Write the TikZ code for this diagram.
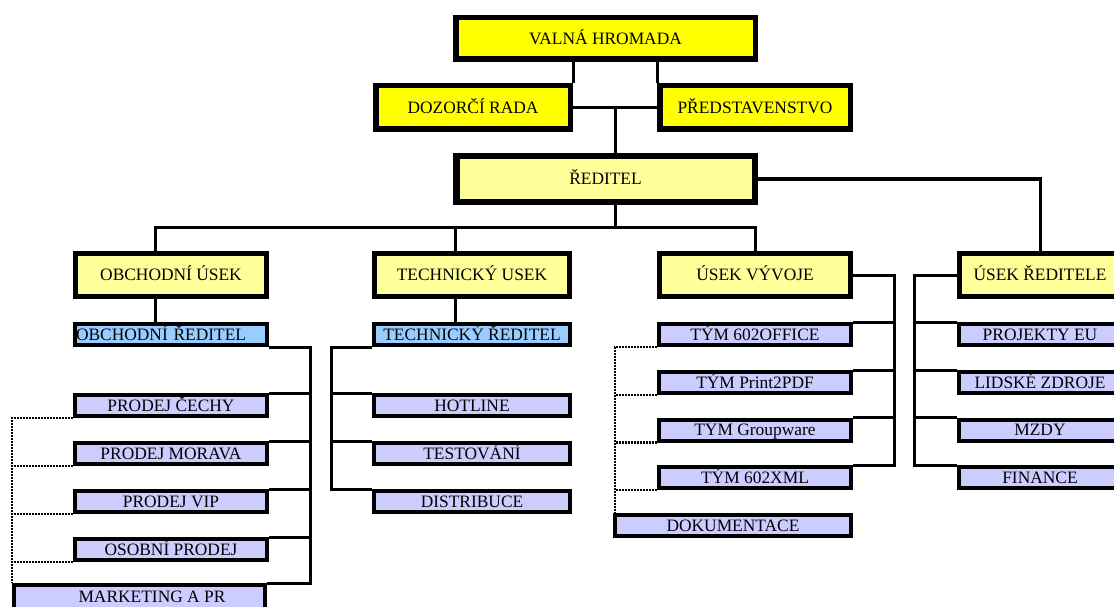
\documentclass[tikz,border=0pt]{standalone}
\usepackage{fontspec}
\setmainfont{Liberation Serif}
\usetikzlibrary{backgrounds}
\definecolor{topY}{HTML}{FFFF00}
\definecolor{lightY}{HTML}{FFFF99}
\definecolor{dirB}{HTML}{99CCFF}
\definecolor{unitL}{HTML}{CCCCFF}
\tikzset{
  box/.style={draw=black, inner sep=0pt, text height=11.5pt, text depth=0pt,
    font=\fontsize{17.4}{20}\selectfont, line join=miter},
  topbox/.style={box, fill=topY, line width=5.5pt},
  headbox/.style={box, fill=lightY, line width=6.5pt},
  deptbox/.style={box, fill=lightY, line width=5pt},
  dirbox/.style={box, fill=dirB, line width=4pt, minimum height=21pt},
  unitbox/.style={box, fill=unitL, line width=4pt, minimum height=21pt},
  conn/.style={draw=black, line width=3pt, line join=miter},
  dotconn/.style={draw=black, line width=2.5pt, dash pattern=on 2pt off 1pt}
}
\begin{document}
\begin{tikzpicture}[x=1pt,y=-1pt]
\useasboundingbox (0,0) rectangle (1114,607);
% top level
\node[topbox, minimum width=299.5pt, minimum height=41.5pt] (valna) at (605.5,38.5) {VALNÁ HROMADA};
\node[topbox, minimum width=194.5pt, minimum height=43.5pt] (dozor) at (473,107.5) {DOZORČÍ RADA};
\node[topbox, minimum width=190.5pt, minimum height=43.5pt] (pred) at (755,107.5) {PŘEDSTAVENSTVO};
\node[headbox, minimum width=298.5pt, minimum height=45.5pt] (red) at (605.5,179) {ŘEDITEL};
% departments
\node[deptbox, minimum width=191pt, minimum height=43pt] (obu) at (171,275) {OBCHODNÍ ÚSEK};
\node[deptbox, minimum width=195pt, minimum height=43pt] (teu) at (472,275) {TECHNICKÝ USEK};
\node[deptbox, minimum width=191pt, minimum height=43pt] (vyv) at (755,275) {ÚSEK VÝVOJE};
\node[deptbox, minimum width=161pt, minimum height=43pt] (ured) at (1040,275) {ÚSEK ŘEDITELE};
% directors
\node[dirbox, text width=190pt, inner xsep=1pt, align=left] (obred) at (171,334.5) {OBCHODNÍ ŘEDITEL};
\node[dirbox, minimum width=196pt] (tered) at (472,334.5) {TECHNICKÝ ŘEDITEL};
% sales units
\node[unitbox, minimum width=192pt] (cechy) at (171,405.5) {PRODEJ ČECHY};
\node[unitbox, minimum width=192pt] (morava) at (171,453.5) {PRODEJ MORAVA};
\node[unitbox, minimum width=192pt] (vip) at (171,501.5) {PRODEJ VIP};
\node[unitbox, minimum width=192pt] (osobni) at (171,549.5) {OSOBNÍ PRODEJ};
\node[unitbox, minimum width=251pt, minimum height=24pt] (mkt) at (139.5,597) {\hspace*{25pt}MARKETING A PR};
% technical units
\node[unitbox, minimum width=196pt] (hot) at (472,405.5) {HOTLINE};
\node[unitbox, minimum width=196pt] (test) at (472,453.5) {TESTOVÁNÍ};
\node[unitbox, minimum width=196pt] (distr) at (472,501.5) {DISTRIBUCE};
% development units
\node[unitbox, minimum width=192pt] (t1) at (755,334.5) {TÝM 602OFFICE};
\node[unitbox, minimum width=192pt] (t2) at (755,382.5) {TÝM Print2PDF};
\node[unitbox, minimum width=192pt] (t3) at (755,430) {TÝM Groupware};
\node[unitbox, minimum width=192pt] (t4) at (755,477.5) {TÝM 602XML};
\node[unitbox, minimum width=236pt] (dok) at (733,525.5) {DOKUMENTACE};
% director's units
\node[unitbox, minimum width=162pt] (proj) at (1040,334.5) {PROJEKTY EU};
\node[unitbox, minimum width=162pt] (lid) at (1040,382.5) {LIDSKÉ ZDROJE};
\node[unitbox, minimum width=162pt] (mzdy) at (1040,430) {MZDY};
\node[unitbox, minimum width=162pt] (fin) at (1040,477.5) {FINANCE};

\coordinate (j1) at (615,107.5);
\coordinate (bus) at (615,227);
\coordinate (bl) at (155,227);
\coordinate (bt) at (455,227);
\coordinate (br) at (755,227);
\coordinate (ox) at (310,346);
\coordinate (tx) at (331,345);
\coordinate (vx) at (894,273);
\coordinate (rx) at (914,272);
\coordinate (dx) at (12,417);
\coordinate (ex) at (615,345);

\begin{scope}[on background layer]
% top
\draw[conn] (dozor.north east) -- (dozor.north east |- valna.south);
\draw[conn] (pred.north west) -- (pred.north west |- valna.south);
\draw[conn] (dozor.east) -- (pred.west);
\draw[conn] (j1) -- (j1 |- red.north);
\draw[conn] (red.south -| bus) -- (bus);
\draw[conn] (obu.north -| bl) -- (bl) -- (br) -- (vyv.north);
\draw[conn] (bt) -- (teu.north -| bt);
\draw[conn] (red.east) -| (ured.north);
\draw[conn] (obu.south -| bl) -- (obred.north -| bl);
\draw[conn] (teu.south -| bt) -- (tered.north -| bt);
% sales tree
\draw[conn] (obred.south east) -- (obred.south east -| ox) -- (mkt.north east -| ox) -- (mkt.north east);
\draw[conn] (cechy.north east) -- (cechy.north east -| ox);
\draw[conn] (morava.north east) -- (morava.north east -| ox);
\draw[conn] (vip.north east) -- (vip.north east -| ox);
\draw[conn] (osobni.north east) -- (osobni.north east -| ox);
% technical tree
\draw[conn] (tered.south west) -- (tered.south west -| tx) -- (distr.north west -| tx) -- (distr.north west);
\draw[conn] (hot.north west) -- (hot.north west -| tx);
\draw[conn] (test.north west) -- (test.north west -| tx);
% development tree
\draw[conn] (vyv.east) -- (vyv.east -| vx) -- (t4.north east -| vx) -- (t4.north east);
\draw[conn] (t1.north east) -- (t1.north east -| vx);
\draw[conn] (t2.north east) -- (t2.north east -| vx);
\draw[conn] (t3.north east) -- (t3.north east -| vx);
% director's tree
\draw[conn] (ured.west) -- (ured.west -| rx) -- (fin.north west -| rx) -- (fin.north west);
\draw[conn] (proj.north west) -- (proj.north west -| rx);
\draw[conn] (lid.north west) -- (lid.north west -| rx);
\draw[conn] (mzdy.north west) -- (mzdy.north west -| rx);
% dotted links
\draw[dotconn] (cechy.south west) -- (cechy.south west -| dx) -- (mkt.north west -| dx);
\draw[dotconn] (morava.south west) -- (morava.south west -| dx);
\draw[dotconn] (vip.south west) -- (vip.south west -| dx);
\draw[dotconn] (osobni.south west) -- (osobni.south west -| dx);
\draw[dotconn] (t1.south west) -- (t1.south west -| ex) -- (dok.north west -| ex);
\draw[dotconn] (t2.south west) -- (t2.south west -| ex);
\draw[dotconn] (t3.south west) -- (t3.south west -| ex);
\draw[dotconn] (t4.south west) -- (t4.south west -| ex);
\end{scope}
\end{tikzpicture}
\end{document}
